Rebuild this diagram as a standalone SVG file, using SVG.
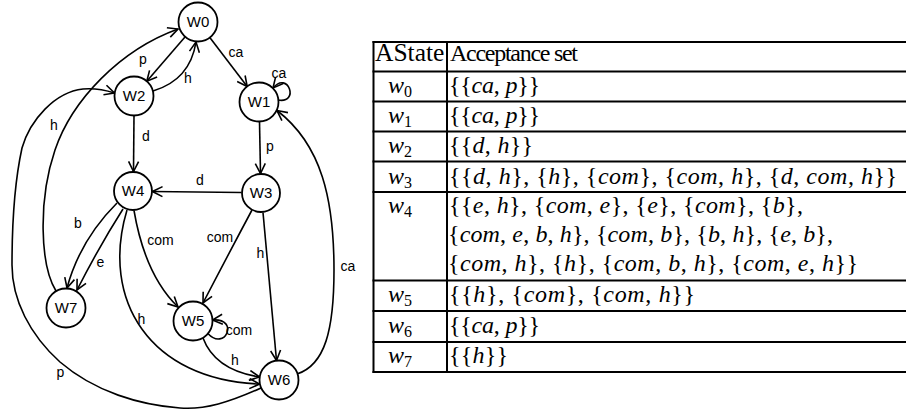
<svg xmlns="http://www.w3.org/2000/svg" width="906" height="410" viewBox="0 0 906 410">
<style>
.n circle{fill:#fff;stroke:#000;stroke-width:1.8}
.n text{font-family:"Liberation Sans",Arial,sans-serif;font-size:15px;text-anchor:middle}
.e path{fill:none;stroke:#000;stroke-width:1.6;marker-end:url(#arr)}
.lbl{font-family:"Liberation Sans",Arial,sans-serif;font-size:14px;text-anchor:middle}
.t line{stroke:#000;stroke-width:2}
.tx{font-family:"Liberation Serif","Times New Roman",serif;font-size:24px}
.hd{font-family:"Liberation Serif","Times New Roman",serif;font-size:24px}
.i{font-style:italic}
.s{font-size:16px}
</style>
<defs>
<marker id="arr" markerWidth="12" markerHeight="12" viewBox="-11 -6 12 12" refX="0" refY="0" orient="auto" markerUnits="userSpaceOnUse">
<path d="M-10,-5 L0,0 L-10,5" fill="none" stroke="#000" stroke-width="1.6"/>
</marker>
</defs>
<rect width="906" height="410" fill="#fff"/>
<g id="connectors" class="e">
<path d="M209.8,37.5 L247.2,86.5"/>
<path d="M185.2,36.8 L146.8,81.2"/>
<path d="M153,91 Q190,80 196,42"/>
<path d="M278,100 C300,104 288,70 273,88"/>
<path d="M259.5,121.5 L260.5,173.5"/>
<path d="M134,115.5 L133.5,171.5"/>
<path d="M241.5,192.5 L152.5,191.5"/>
<path d="M117,203 Q80,240 67,288"/>
<path d="M123,209 Q100,245 77,290"/>
<path d="M127,210 C100,300 150,380 259.5,384"/>
<path d="M134,210.5 Q145,275 178,307"/>
<path d="M252,210 Q228,255 203,303"/>
<path d="M263,212.5 Q270,290 276.5,360.5"/>
<path d="M207.9,333.5 C225,352 240,318 212.5,320"/>
<path d="M203,338 Q215,370 259.5,377"/>
<path d="M297,374 C325,365 334,330 334,270 C334,200 322,145 277,110.5"/>
<path d="M261,388 C230,402 205,410 180,408 C140,405 95,392 60,362 C30,335 12,300 12,265 C12,220 15,180 22,148 C30,120 55,92 83,89 C95,88 105,90 114.5,93"/>
<path d="M56,291 C40,265 38,200 55,150 C72,100 120,50 178,29"/>
<text class="lbl" x="236" y="57">ca</text>
<text class="lbl" x="143" y="64">p</text>
<text class="lbl" x="188" y="83">h</text>
<text class="lbl" x="279" y="78">ca</text>
<text class="lbl" x="270" y="151">p</text>
<text class="lbl" x="146" y="141">d</text>
<text class="lbl" x="200" y="185">d</text>
<text class="lbl" x="78" y="228">b</text>
<text class="lbl" x="100.5" y="267">e</text>
<text class="lbl" x="141.5" y="324">h</text>
<text class="lbl" x="160.5" y="245">com</text>
<text class="lbl" x="220" y="242">com</text>
<text class="lbl" x="260.5" y="258">h</text>
<text class="lbl" x="239" y="335">com</text>
<text class="lbl" x="235" y="365">h</text>
<text class="lbl" x="348" y="271">ca</text>
<text class="lbl" x="54" y="130">h</text>
<text class="lbl" x="60.5" y="377">p</text>
</g>
<g id="W0" class="n"><circle cx="198" cy="22" r="19.5"/><text x="198" y="27">W0</text></g>
<g id="W1" class="n"><circle cx="259" cy="102" r="19.5"/><text x="259" y="107">W1</text></g>
<g id="W2" class="n"><circle cx="134" cy="96" r="19.5"/><text x="134" y="101">W2</text></g>
<g id="W3" class="n"><circle cx="261" cy="193" r="19"/><text x="261" y="198">W3</text></g>
<g id="W4" class="n"><circle cx="133" cy="191" r="19"/><text x="133" y="196">W4</text></g>
<g id="W5" class="n"><circle cx="193" cy="321" r="19.5"/><text x="193" y="326">W5</text></g>
<g id="W6" class="n"><circle cx="279" cy="380" r="19.5"/><text x="279" y="385">W6</text></g>
<g id="W7" class="n"><circle cx="66" cy="308" r="19.5"/><text x="66" y="313">W7</text></g>
<g id="table" class="t">
<line x1="372.5" y1="42" x2="906" y2="42"/>
<line x1="372.5" y1="71.5" x2="906" y2="71.5"/>
<line x1="372.5" y1="101.5" x2="906" y2="101.5"/>
<line x1="372.5" y1="131.5" x2="906" y2="131.5"/>
<line x1="372.5" y1="161.5" x2="906" y2="161.5"/>
<line x1="372.5" y1="192" x2="906" y2="192"/>
<line x1="372.5" y1="280.5" x2="906" y2="280.5"/>
<line x1="372.5" y1="311" x2="906" y2="311"/>
<line x1="372.5" y1="342" x2="906" y2="342"/>
<line x1="372.5" y1="372" x2="906" y2="372"/>
<line x1="373.5" y1="41" x2="373.5" y2="373"/>
<line x1="447" y1="41" x2="447" y2="373"/>
<text class="hd" x="375" y="61" style="font-size:25.5px">AState</text>
<text class="hd" x="450" y="61" textLength="128">Acceptance set</text>
<text class="tx" x="388" y="93"><tspan class="i">w</tspan><tspan class="s" dy="4">0</tspan></text>
<text class="tx" x="388" y="123"><tspan class="i">w</tspan><tspan class="s" dy="4">1</tspan></text>
<text class="tx" x="388" y="153"><tspan class="i">w</tspan><tspan class="s" dy="4">2</tspan></text>
<text class="tx" x="388" y="184"><tspan class="i">w</tspan><tspan class="s" dy="4">3</tspan></text>
<text class="tx" x="388" y="213"><tspan class="i">w</tspan><tspan class="s" dy="4">4</tspan></text>
<text class="tx" x="388" y="302"><tspan class="i">w</tspan><tspan class="s" dy="4">5</tspan></text>
<text class="tx" x="388" y="333"><tspan class="i">w</tspan><tspan class="s" dy="4">6</tspan></text>
<text class="tx" x="388" y="363"><tspan class="i">w</tspan><tspan class="s" dy="4">7</tspan></text>
<text class="tx" x="449" y="93" textLength="91">{{<tspan class="i">ca</tspan>, <tspan class="i">p</tspan>}}</text>
<text class="tx" x="449" y="123" textLength="91">{{<tspan class="i">ca</tspan>, <tspan class="i">p</tspan>}}</text>
<text class="tx" x="449" y="153" textLength="84">{{<tspan class="i">d</tspan>, <tspan class="i">h</tspan>}}</text>
<text class="tx" x="449" y="184" textLength="448">{{<tspan class="i">d</tspan>, <tspan class="i">h</tspan>}, {<tspan class="i">h</tspan>}, {<tspan class="i">com</tspan>}, {<tspan class="i">com</tspan>, <tspan class="i">h</tspan>}, {<tspan class="i">d</tspan>, <tspan class="i">com</tspan>, <tspan class="i">h</tspan>}}</text>
<text class="tx" x="449" y="213" textLength="354">{{<tspan class="i">e</tspan>, <tspan class="i">h</tspan>}, {<tspan class="i">com</tspan>, <tspan class="i">e</tspan>}, {<tspan class="i">e</tspan>}, {<tspan class="i">com</tspan>}, {<tspan class="i">b</tspan>},</text>
<text class="tx" x="448" y="242" textLength="385">{<tspan class="i">com</tspan>, <tspan class="i">e</tspan>, <tspan class="i">b</tspan>, <tspan class="i">h</tspan>}, {<tspan class="i">com</tspan>, <tspan class="i">b</tspan>}, {<tspan class="i">b</tspan>, <tspan class="i">h</tspan>}, {<tspan class="i">e</tspan>, <tspan class="i">b</tspan>},</text>
<text class="tx" x="448" y="271" textLength="410">{<tspan class="i">com</tspan>, <tspan class="i">h</tspan>}, {<tspan class="i">h</tspan>}, {<tspan class="i">com</tspan>, <tspan class="i">b</tspan>, <tspan class="i">h</tspan>}, {<tspan class="i">com</tspan>, <tspan class="i">e</tspan>, <tspan class="i">h</tspan>}}</text>
<text class="tx" x="449" y="302" textLength="246">{{<tspan class="i">h</tspan>}, {<tspan class="i">com</tspan>}, {<tspan class="i">com</tspan>, <tspan class="i">h</tspan>}}</text>
<text class="tx" x="449" y="333" textLength="91">{{<tspan class="i">ca</tspan>, <tspan class="i">p</tspan>}}</text>
<text class="tx" x="449" y="363" textLength="59">{{<tspan class="i">h</tspan>}}</text>
</g>
</svg>
